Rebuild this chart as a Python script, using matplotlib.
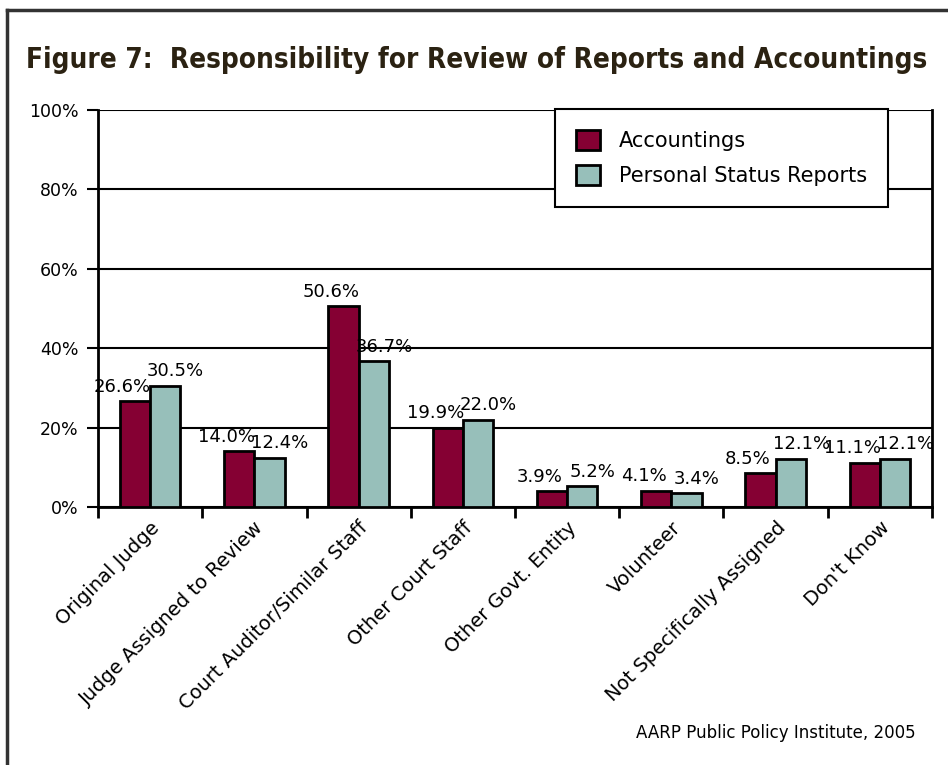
import numpy as np
import matplotlib.pyplot as plt
from matplotlib.lines import Line2D

# Data
categories = ["Original Judge", "Judge Assigned to Review", "Court Auditor/Similar Staff",
              "Other Court Staff", "Other Govt. Entity", "Volunteer",
              "Not Specifically Assigned", "Don't Know"]
accountings = [26.6, 14.0, 50.6, 19.9, 3.9, 4.1, 8.5, 11.1]
status_reports = [30.5, 12.4, 36.7, 22.0, 5.2, 3.4, 12.1, 12.1]
y_ticks = [0, 20, 40, 60, 80, 100]

maroon = '#850033'
teal = '#97bfba'
text_font = ['DejaVu Sans']

fig = plt.figure(figsize=(9.48, 7.65), dpi=100)
ax = fig.add_axes([0.1034, 0.3373, 0.8797, 0.5189])

x = np.arange(len(categories))
w = 0.29
ax.bar(x - w / 2, accountings, w, color=maroon, edgecolor='black', linewidth=2,
       label='Accountings', zorder=3)
ax.bar(x + w / 2, status_reports, w, color=teal, edgecolor='black', linewidth=2,
       label='Personal Status Reports', zorder=3)

# value labels
for i in range(len(categories)):
    ax.annotate(f"{accountings[i]:.1f}%", (x[i] - w / 2 - 0.12, accountings[i]),
                xytext=(0, 4), textcoords='offset points', ha='center', va='bottom',
                fontsize=13, family=text_font, zorder=4)
    ax.annotate(f"{status_reports[i]:.1f}%", (x[i] + w / 2 + 0.1, status_reports[i]),
                xytext=(0, 4), textcoords='offset points', ha='center', va='bottom',
                fontsize=13, family=text_font, zorder=4)

ax.set_xlim(-0.5, len(categories) - 0.5)
ax.set_ylim(0, 100)
ax.set_yticks(y_ticks)
ax.set_yticklabels([f"{v}%" for v in y_ticks], fontsize=12.5, family=text_font)
ax.yaxis.grid(True, color='black', linewidth=1.5, zorder=0)
ax.set_axisbelow(True)

# x ticks at category boundaries, labels at centers
ax.set_xticks(np.arange(-0.5, len(categories)), minor=False)
ax.set_xticklabels([])
ax.set_xticks(x, minor=True)
ax.set_xticklabels(categories, minor=True, rotation=45, ha='right', rotation_mode='anchor',
                   fontsize=14, family=text_font)
ax.tick_params(axis='x', which='minor', length=0, pad=8)
ax.tick_params(axis='x', which='major', length=8, width=2, direction='out')
ax.tick_params(axis='y', length=8, width=1.5, direction='out', pad=6)

for s in ['left', 'bottom', 'right']:
    ax.spines[s].set_linewidth(2)
ax.spines['top'].set_visible(False)

leg = ax.legend(loc='upper right', bbox_to_anchor=(0.947, 1.003),
                frameon=True, fancybox=False, edgecolor='black', framealpha=1,
                handlelength=1.15, handleheight=1.15, borderpad=1.0, labelspacing=0.65,
                handletextpad=0.9, borderaxespad=0, prop={'family': text_font, 'size': 15})
leg.get_frame().set_linewidth(1.5)
leg.set_zorder(5)

fig.text(0.503, 0.921, "Figure 7:  Responsibility for Review of Reports and Accountings",
         ha='center', va='center', fontsize=20, fontweight='bold', color='#2b2212',
         family='DejaVu Sans', fontstretch='condensed')
fig.text(0.966, 0.042, "AARP Public Policy Institute, 2005", ha='right', va='center',
         fontsize=12, family=text_font)

# outer frame
fig.add_artist(Line2D([0.0074, 1.0], [0.987, 0.987], color='#333333', linewidth=2.5))
fig.add_artist(Line2D([0.0074, 0.0074], [0.0, 0.987], color='#333333', linewidth=2.5))

fig.savefig("out.png", dpi=100)
